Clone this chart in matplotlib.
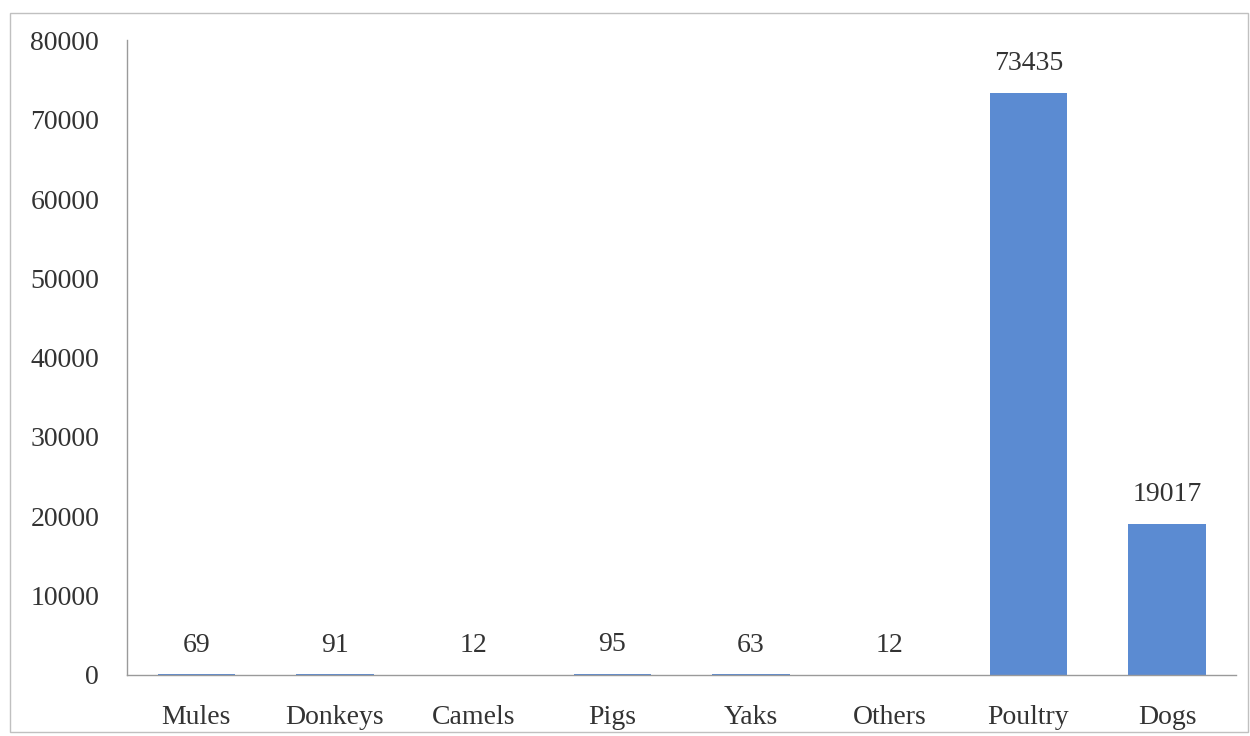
import matplotlib.pyplot as plt
from matplotlib.patches import Rectangle

# Data
categories = ['Mules', 'Donkeys', 'Camels', 'Pigs', 'Yaks', 'Others', 'Poultry', 'Dogs']
counts = [69, 91, 12, 95, 63, 12, 73435, 19017]
yticks = [0, 10000, 20000, 30000, 40000, 50000, 60000, 70000, 80000]

plt.rcParams['font.family'] = ['Liberation Serif', 'DejaVu Serif']

fig = plt.figure(figsize=(12.5, 7.36), dpi=100)
ax = fig.add_axes([0.1016, 0.083, 0.8875, 0.862])

x = range(len(categories))
bars = ax.bar(x, counts, width=0.56, color='#5b8bd2')

for xi, v in zip(x, counts):
    ax.annotate(str(v), (xi, v), xytext=(0, 12), textcoords='offset points',
                ha='center', va='bottom', fontsize=20, color='#333333')

ax.set_xlim(-0.5, len(categories) - 0.5)
ax.set_ylim(0, 80000)
ax.set_yticks(yticks)
ax.set_yticklabels([str(t) for t in yticks])
ax.set_xticks(list(x))
ax.set_xticklabels(categories)
ax.tick_params(axis='both', length=0, labelsize=20, colors='#333333')
ax.tick_params(axis='y', pad=20)
ax.tick_params(axis='x', pad=22)

for side in ['top', 'right']:
    ax.spines[side].set_visible(False)
for side in ['left', 'bottom']:
    ax.spines[side].set_color('#9a9a9a')
    ax.spines[side].set_linewidth(1)

# Thin border round the whole picture
fig.patches.append(Rectangle((0.008, 0.005), 0.99, 0.977, transform=fig.transFigure,
                             fill=False, edgecolor='#c0c0c0', linewidth=1))

plt.savefig('out.png', dpi=100)
